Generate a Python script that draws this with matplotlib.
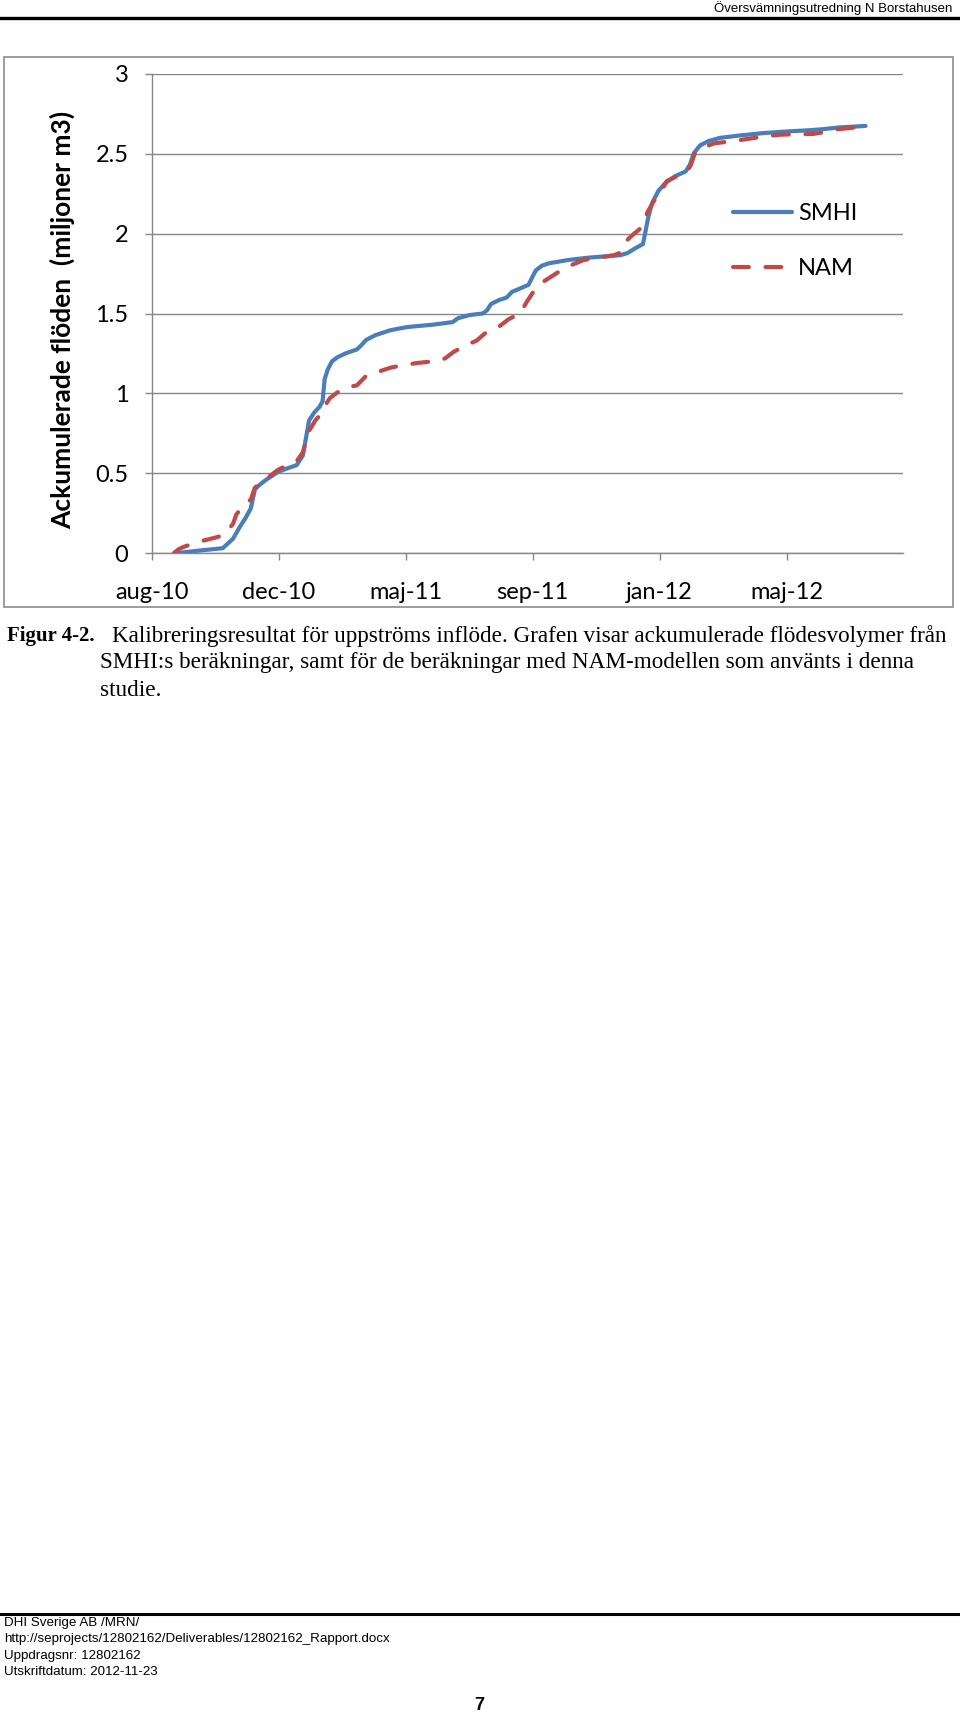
import matplotlib
matplotlib.use("Agg")
import matplotlib.pyplot as plt
from matplotlib.patches import Rectangle
from matplotlib.lines import Line2D

# days counted from the aug-10 tick, values in million m3
smhi_days = [25, 45, 68, 73, 78, 85, 90, 95, 99, 104, 110, 121, 130, 139, 145, 148,
             151, 156, 161, 164, 166, 169, 173, 178, 186, 197, 201, 206, 215, 229,
             245, 270, 289, 294, 305, 318, 322, 326, 334, 341, 346, 355, 362, 365,
             369, 375, 382, 400, 420, 450, 457, 465, 472, 474, 477, 481, 487, 494,
             503, 513, 517, 521, 527, 535, 546, 565, 588, 610, 630, 643, 660, 686]
smhi_vals = [0.0, 0.015, 0.03, 0.06, 0.09, 0.17, 0.22, 0.28, 0.40, 0.43, 0.46, 0.507,
             0.53, 0.55, 0.61, 0.72, 0.83, 0.88, 0.915, 0.95, 1.09, 1.15, 1.20, 1.225,
             1.25, 1.275, 1.30, 1.335, 1.365, 1.395, 1.415, 1.43, 1.446, 1.47, 1.49,
             1.50, 1.52, 1.56, 1.585, 1.60, 1.635, 1.66, 1.68, 1.72, 1.77, 1.80, 1.815,
             1.835, 1.85, 1.865, 1.878, 1.91, 1.935, 2.00, 2.10, 2.195, 2.27, 2.32,
             2.36, 2.39, 2.43, 2.505, 2.553, 2.58, 2.60, 2.615, 2.63, 2.64, 2.647,
             2.653, 2.665, 2.675]

nam_days = [21, 26, 31, 46, 60, 69, 73, 78, 81, 85, 90, 95, 99, 105, 110, 121, 130,
            139, 145, 148, 151, 157, 163, 167, 171, 178, 186, 197, 206, 215, 229, 240,
            255, 277, 282, 290, 300, 312, 320, 330, 343, 354, 360, 367, 374, 380, 392,
            402, 415, 430, 444, 450, 453, 460, 469, 473, 476, 482, 489, 495, 505, 514,
            518, 522, 530, 540, 566, 590, 604, 636, 650, 660, 685]
nam_vals = [0.0, 0.025, 0.04, 0.072, 0.095, 0.112, 0.14, 0.185, 0.24, 0.275, 0.31,
            0.335, 0.41, 0.44, 0.465, 0.52, 0.55, 0.575, 0.63, 0.70, 0.765, 0.83, 0.875,
            0.93, 0.97, 1.005, 1.035, 1.05, 1.11, 1.13, 1.16, 1.175, 1.19, 1.205, 1.22,
            1.26, 1.295, 1.33, 1.375, 1.40, 1.465, 1.50, 1.57, 1.64, 1.69, 1.715, 1.765,
            1.80, 1.835, 1.85, 1.865, 1.88, 1.935, 1.98, 2.03, 2.08, 2.13, 2.20, 2.26,
            2.33, 2.36, 2.385, 2.43, 2.505, 2.54, 2.565, 2.587, 2.61, 2.62, 2.625, 2.64,
            2.655, 2.67]

tick_days = [0, 122, 244, 366, 488, 610]
tick_labels = ["aug-10", "dec-10", "maj-11", "sep-11", "jan-12", "maj-12"]
y_ticks = [0, 0.5, 1, 1.5, 2, 2.5, 3]
y_labels = ["0", "0.5", "1", "1.5", "2", "2.5", "3"]

W, H = 960, 1714
BLUE = "#4A7EBB"
RED = "#BE4B48"
GRID = "#868686"

fig = plt.figure(figsize=(W / 100, H / 100), dpi=100)
fig.patch.set_facecolor("white")

def fx(px):
    return px / W

def fy(py):
    return 1 - py / H

# header
fig.text(fx(952), fy(8), "Översvämningsutredning N Borstahusen", ha="right", va="center",
         family="Liberation Sans", fontsize=9.5)
fig.add_artist(Line2D([0, 1], [fy(17.5), fy(17.5)], transform=fig.transFigure,
                      color="black", lw=2.4))

# chart frame
fig.add_artist(Rectangle((fx(4), fy(607)), fx(949), 550 / H, transform=fig.transFigure,
                         fill=False, ec="#8C8C8C", lw=1.2))

ax = fig.add_axes([fx(152), fy(553), fx(903 - 152), (553 - 74) / H])
ax.plot(smhi_days, smhi_vals, color=BLUE, lw=3.0, solid_capstyle="round",
        solid_joinstyle="round", label="SMHI", zorder=3)
ax.plot(nam_days, nam_vals, color=RED, lw=3.0, dashes=(3.8, 4.0), dash_capstyle="round",
        label="NAM", zorder=4)

ax.set_xlim(0, 722)
ax.set_ylim(0, 3)
ax.set_xticks(tick_days)
ax.set_xticklabels(tick_labels)
ax.set_yticks(y_ticks)
ax.set_yticklabels(y_labels)
for lab in ax.get_xticklabels() + ax.get_yticklabels():
    lab.set_family("Lato")
    lab.set_fontsize(17)
ax.tick_params(axis="both", length=5, width=1.0, color=GRID)
ax.tick_params(axis="x", pad=16)
ax.tick_params(axis="y", pad=12)
ax.yaxis.grid(True, color=GRID, lw=1.0)
ax.set_axisbelow(True)
for s in ["top", "right"]:
    ax.spines[s].set_visible(False)
for s in ["left", "bottom"]:
    ax.spines[s].set_color(GRID)
    ax.spines[s].set_linewidth(1.0)

fig.text(fx(62), fy(320), "Ackumulerade flöden  (miljoner m3)", rotation=90,
         ha="center", va="center", family="Lato", fontweight="bold", fontsize=19)

ax.legend(loc="center left", bbox_to_anchor=(fx(733), fy(241)), bbox_transform=fig.transFigure,
          frameon=False, prop={"family": "Lato", "size": 17}, handlelength=2.5,
          handletextpad=0.25, labelspacing=1.45, borderpad=0, borderaxespad=0)

# caption
cap = dict(ha="left", va="center", family="Liberation Serif", fontsize=16.7)
fig.text(fx(7), fy(636), "Figur 4-2.", fontweight="bold", **dict(cap, fontsize=15))
fig.text(fx(112), fy(636),
         "Kalibreringsresultat för uppströms inflöde. Grafen visar ackumulerade flödesvolymer från",
         **cap)
fig.text(fx(100), fy(663),
         "SMHI:s beräkningar, samt för de beräkningar med NAM-modellen som använts i denna",
         **cap)
fig.text(fx(100), fy(690), "studie.", **cap)

# footer
fig.add_artist(Line2D([0, 1], [fy(1614), fy(1614)], transform=fig.transFigure,
                      color="black", lw=2.2))
footer = ["DHI Sverige AB /MRN/",
          "http://seprojects/12802162/Deliverables/12802162_Rapport.docx",
          "Uppdragsnr: 12802162",
          "Utskriftdatum: 2012-11-23"]
for i, line in enumerate(footer):
    fig.text(fx(4), fy(1623 + 16.3 * i), line, ha="left", va="center",
             family="Liberation Sans", fontsize=9.6)
fig.text(fx(479), fy(1706), "7", ha="center", va="center", family="Liberation Sans",
         fontweight="bold", fontsize=13)

fig.savefig("out.png", dpi=100, facecolor="white")
